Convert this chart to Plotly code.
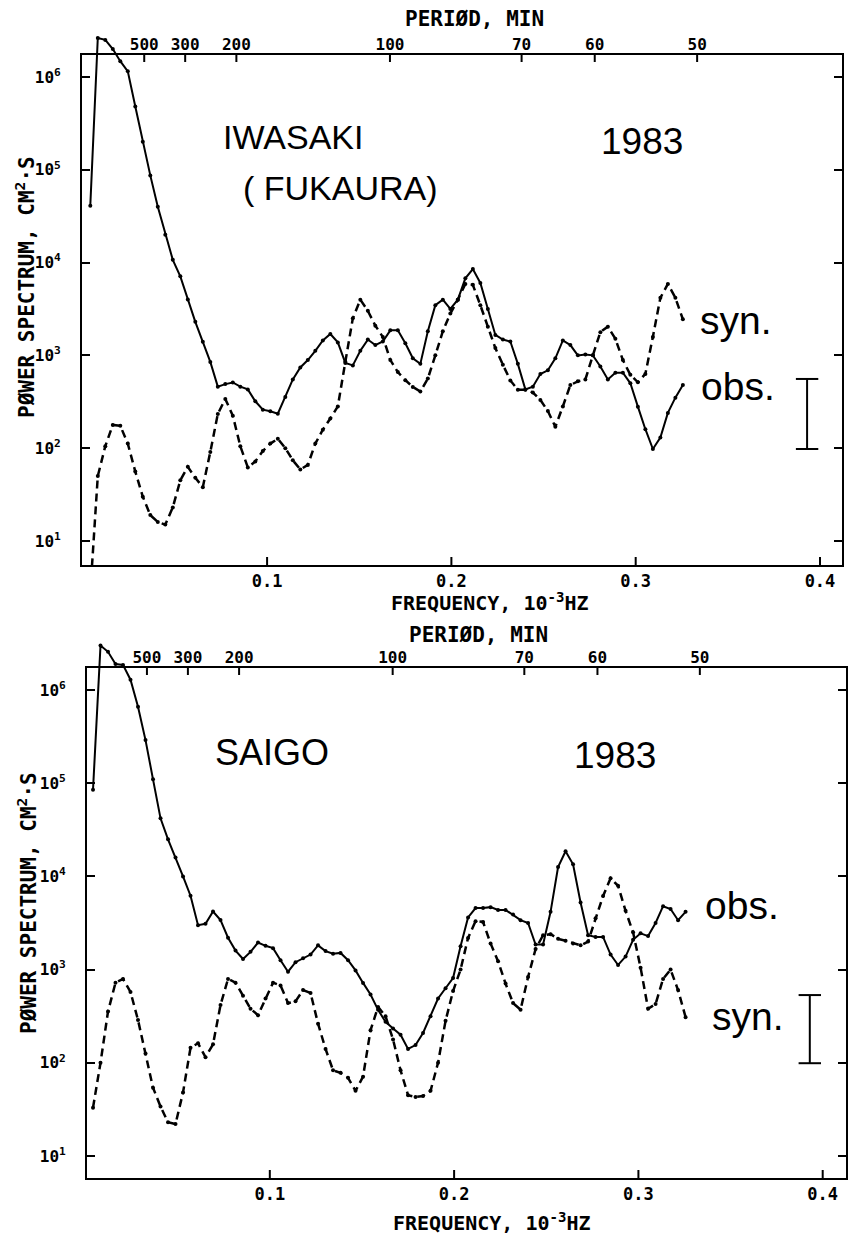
import plotly.graph_objects as go

W, H = 850, 1236

# Spectral estimates on a uniform frequency grid (10^-3 Hz)
FREQ_STEP = 0.00407
N_POINTS = 80
freq = [round(FREQ_STEP * (i + 1), 5) for i in range(N_POINTS)]

# Power spectra, cm^2 s
iwasaki_obs = [41000, 2.63e6, 2.51e6, 2.0e6, 1.48e6, 1.15e6, 4.8e5, 2.0e5, 8.7e4, 4.0e4,
               2.0e4, 1.07e4, 7100, 4000, 2300, 1400, 850, 460, 490, 510,
               460, 430, 320, 260, 250, 235, 355, 550, 740, 890,
               1120, 1450, 1700, 1380, 830, 780, 1120, 1480, 1290, 1410,
               1860, 1860, 1350, 930, 810, 1820, 3470, 3980, 3160, 3980,
               6760, 8510, 6030, 3160, 1660, 1480, 1410, 810, 430, 460,
               630, 690, 930, 1450, 1290, 1000, 1020, 1000, 760, 550,
               650, 650, 500, 280, 160, 98, 130, 240, 350, 480]

iwasaki_syn = [2.8, 50, 105, 178, 174, 112, 56, 30, 19, 16,
               15, 23, 45, 63, 48, 38, 91, 234, 339, 224,
               105, 62, 72, 93, 112, 126, 100, 74, 59, 66,
               112, 158, 209, 282, 851, 2510, 3980, 3020, 2090, 1580,
               890, 660, 540, 457, 407, 562, 1000, 1820, 2820, 3980,
               5890, 5750, 3470, 2040, 1200, 794, 537, 427, 427, 398,
               331, 251, 170, 282, 479, 525, 550, 1000, 1780, 2040,
               1510, 891, 617, 513, 631, 1580, 4170, 5890, 4170, 2450]

saigo_obs = [85000, 3.0e6, 2.57e6, 1.9e6, 1.86e6, 1.29e6, 6.6e5, 2.9e5, 1.1e5, 4.2e4,
             2.5e4, 1.6e4, 1.0e4, 6200, 3000, 3100, 4200, 3400, 2200, 1600,
             1300, 1550, 1950, 1800, 1700, 1260, 950, 1200, 1320, 1450,
             1820, 1580, 1480, 1510, 1260, 980, 720, 540, 370, 275,
             234, 200, 141, 155, 209, 316, 490, 631, 813, 1780,
             3630, 4570, 4570, 4680, 4370, 4370, 3890, 3390, 3160, 1860,
             1860, 4170, 12600, 18600, 13500, 5250, 2340, 2240, 2240, 1450,
             1120, 1380, 2090, 2450, 2290, 3160, 4790, 4470, 3390, 4170]

saigo_syn = [33, 100, 355, 724, 794, 575, 288, 126, 54, 34,
             23, 22, 48, 145, 162, 115, 158, 417, 794, 724,
             525, 380, 324, 490, 724, 676, 437, 457, 603, 562,
             263, 141, 83, 78, 69, 50, 71, 224, 398, 316,
             178, 83, 45, 43, 44, 50, 100, 282, 589, 1000,
             2190, 3310, 3240, 1910, 1230, 708, 437, 372, 832, 1660,
             2340, 2400, 2140, 2040, 1910, 1820, 2000, 3550, 6170, 9550,
             7940, 4270, 2510, 1050, 380, 427, 794, 1000, 603, 309]

# Confidence interval bars (cm^2 s)
iwasaki_conf = [98, 557]
saigo_conf = [99, 533]
CONF_FREQ = 0.393

# Axis ticks
freq_ticks = [0.1, 0.2, 0.3, 0.4]
freq_ticktext = ["0.1", "0.2", "0.3", "0.4"]
period_ticks_min = [500, 300, 200, 100, 70, 60, 50]
period_ticks_freq = [1000.0 / (60.0 * m) for m in period_ticks_min]  # 10^-3 Hz
power_ticks = [1e1, 1e2, 1e3, 1e4, 1e5, 1e6]
power_ticktext = ["10<sup>%d</sup>" % e for e in range(1, 7)]

MONO = "DejaVu Sans Mono"
SANS = "Liberation Sans"
CLEAR = "rgba(0,0,0,0)"
TICK_LEN = 8


def py(p):
    return 1 - p / H


def px(p):
    return p / W


# panel geometry in pixels: left, right, frame top, frame bottom, extended top
panels = [
    dict(obs=iwasaki_obs, syn=iwasaki_syn, conf=iwasaki_conf,
         left=82, right=842, top=55, bottom=565, ext=25,
         xr=(-0.00043, 0.41194), yr=(0.741, 6.237), yext=6.560),
    dict(obs=saigo_obs, syn=saigo_syn, conf=saigo_conf,
         left=87, right=846, top=668, bottom=1178, ext=638,
         xr=(0.00081, 0.41264), yr=(0.764, 6.236), yext=6.558),
]

fig = go.Figure()
layout = {}
shapes = []

for i, p in enumerate(panels):
    n = i + 1
    xa = "x" if n == 1 else "x%d" % n
    ya = "y" if n == 1 else "y%d" % n
    xtop = "x%d" % (n + 2)
    yext = "y%d" % (n + 2)

    xdom = [px(p["left"]), px(p["right"])]

    layout["xaxis" if n == 1 else "xaxis%d" % n] = dict(
        domain=xdom, range=list(p["xr"]), anchor=ya,
        showline=True, linewidth=2, linecolor="black", mirror=True,
        tickvals=freq_ticks, ticktext=freq_ticktext,
        tickfont=dict(family=MONO, size=17, color="black", weight="bold"),
        ticks="", ticklabelstandoff=0, showgrid=False, zeroline=False)
    layout["yaxis" if n == 1 else "yaxis%d" % n] = dict(
        domain=[py(p["bottom"]), py(p["top"])], type="log", range=list(p["yr"]),
        anchor=xa, showline=True, linewidth=2, linecolor="black", mirror="ticks",
        tickvals=power_ticks, ticktext=power_ticktext,
        tickfont=dict(family=MONO, size=16, color="black", weight="bold"),
        ticks="inside", ticklen=TICK_LEN, tickwidth=2, tickcolor="black",
        ticklabelstandoff=16, showgrid=False, zeroline=False)
    # period scale along the top edge of the frame
    layout["xaxis%d" % (n + 2)] = dict(
        domain=xdom, anchor="free", position=py(p["top"]), side="top",
        range=list(p["xr"]),
        tickvals=period_ticks_freq,
        ticktext=[str(m) for m in period_ticks_min],
        tickfont=dict(family=MONO, size=16, color="black", weight="bold"),
        ticks="", showline=False, showgrid=False, zeroline=False,
        ticklabelstandoff=2)
    layout["yaxis%d" % (n + 2)] = dict(
        domain=[py(p["bottom"]), py(p["ext"])], type="log",
        range=[p["yr"][0], p["yext"]], anchor=xa, visible=False)

    # tick marks pointing into the frame: frequency along the bottom,
    # period along the top
    for f in freq_ticks:
        shapes.append(dict(type="line", xref=xa, yref="paper",
                           x0=f, x1=f, y0=py(p["bottom"]),
                           y1=py(p["bottom"] - TICK_LEN),
                           line=dict(color="black", width=2)))
    for f in period_ticks_freq:
        shapes.append(dict(type="line", xref=xa, yref="paper",
                           x0=f, x1=f, y0=py(p["top"]),
                           y1=py(p["top"] + TICK_LEN - 1),
                           line=dict(color="black", width=2)))

    # invisible trace that binds the period axis to the panel
    fig.add_trace(go.Scatter(
        x=period_ticks_freq, y=[1e3] * len(period_ticks_freq), xaxis=xtop, yaxis=ya,
        mode="markers", marker=dict(opacity=0, size=1),
        showlegend=False, hoverinfo="skip"))

    fig.add_trace(go.Scatter(
        x=freq, y=p["syn"], xaxis=xa, yaxis=yext, mode="lines+markers",
        line=dict(color="black", width=2.5, dash="8px,5px"),
        marker=dict(size=4, color="black"), name="syn.", showlegend=False))
    fig.add_trace(go.Scatter(
        x=freq, y=p["obs"], xaxis=xa, yaxis=yext, mode="lines+markers",
        line=dict(color="black", width=2),
        marker=dict(size=4, color="black"), name="obs.", showlegend=False))
    fig.add_trace(go.Scatter(
        x=[CONF_FREQ, CONF_FREQ], y=p["conf"], xaxis=xa, yaxis=ya,
        mode="lines+markers", line=dict(color="black", width=2),
        marker=dict(symbol="line-ew", size=16, color="black",
                    line=dict(color="black", width=2)),
        showlegend=False, hoverinfo="skip"))


def ann(text, x, y, size, family, bold=False, **kw):
    f = dict(family=family, size=size, color="black")
    if bold:
        f["weight"] = "bold"
    return dict(text=text, x=px(x), y=py(y), xref="paper", yref="paper",
                showarrow=False, font=f, xanchor="center", yanchor="middle", **kw)


ylabel = "PØWER SPECTRUM, CM<sup>2</sup>·S"
xlabel = "FREQUENCY, 10<sup>-3</sup>HZ"
plabel = "PERIØD, MIN"

annotations = [
    ann(plabel, 474, 19, 21, MONO, True),
    ann(xlabel, 490, 602, 20, MONO, True),
    ann(ylabel, 25, 287, 21, MONO, True, textangle=-90),
    ann("IWASAKI", 293, 137, 34, SANS),
    ann("( FUKAURA)", 340, 188, 34, SANS),
    ann("1983", 642, 141, 37, SANS),
    ann("syn.", 736, 320, 39, SANS),
    ann("obs.", 738, 386, 39, SANS),

    ann(plabel, 479, 635, 21, MONO, True),
    ann(xlabel, 492, 1222, 20, MONO, True),
    ann(ylabel, 27, 903, 21, MONO, True, textangle=-90),
    ann("SAIGO", 272, 753, 36, SANS),
    ann("1983", 615, 755, 37, SANS),
    ann("obs.", 742, 905, 39, SANS),
    ann("syn.", 748, 1016, 39, SANS),
]

fig.update_layout(
    width=W, height=H, margin=dict(l=0, r=0, t=0, b=0),
    paper_bgcolor="white", plot_bgcolor=CLEAR,
    showlegend=False, annotations=annotations, shapes=shapes, **layout)

fig.write_html("out.html")
